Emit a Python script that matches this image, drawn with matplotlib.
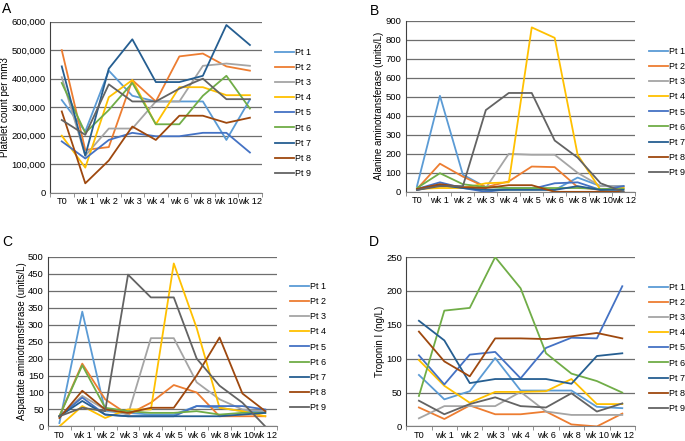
import numpy as np
import matplotlib
matplotlib.use('Agg')
import matplotlib.pyplot as plt
from matplotlib.ticker import FuncFormatter

plt.rcParams['font.family'] = ['Liberation Sans', 'DejaVu Sans']

patients = ['Pt 1', 'Pt 2', 'Pt 3', 'Pt 4', 'Pt 5', 'Pt 6', 'Pt 7', 'Pt 8', 'Pt 9']
colors = ['#5B9BD5', '#ED7D31', '#A5A5A5', '#FFC000', '#4472C4',
          '#70AD47', '#255E91', '#9E480E', '#636363']

weeks_a = ['T0', 'wk 1', 'wk 2', 'wk 3', 'wk 4', 'wk 6', 'wk 8', 'wk 10', 'wk 12']
weeks_b = ['T0', 'wk 1', 'wk 2', 'wk 3', 'wk 4', 'wk 5', 'wk 6', 'wk 8', 'wk 10', 'wk 12']

# A) platelets
platelets = [
    [325000, 215000, 428000, 340000, 320000, 320000, 320000, 185000, 327000],
    [500000, 150000, 160000, 395000, 320000, 478000, 488000, 443000, 428000],
    [405000, 130000, 225000, 225000, 320000, 320000, 445000, 453000, 445000],
    [200000, 88000, 335000, 395000, 240000, 370000, 370000, 342000, 342000],
    [180000, 120000, 185000, 210000, 198000, 198000, 210000, 210000, 141000],
    [385000, 210000, 290000, 385000, 240000, 240000, 340000, 410000, 295000],
    [443000, 130000, 435000, 538000, 388000, 388000, 410000, 588000, 518000],
    [285000, 33000, 113000, 232000, 185000, 270000, 270000, 245000, 263000],
    [255000, 203000, 380000, 320000, 320000, 365000, 400000, 328000, 328000],
]

# B) ALT
alt = [
    [30, 505, 90, 25, 20, 20, 10, 75, 30, 30],
    [15, 148, 80, 25, 55, 133, 130, 25, 10, 20],
    [10, 40, 20, 20, 200, 195, 195, 100, 30, 30],
    [15, 20, 20, 45, 50, 865, 810, 195, 10, 20],
    [15, 50, 20, 0, 15, 15, 45, 50, 10, 30],
    [20, 98, 40, 25, 20, 20, 20, 20, 15, 15],
    [10, 35, 20, 10, 10, 10, 10, 30, 10, 10],
    [15, 40, 25, 20, 35, 35, 0, 0, 0, 0],
    [10, 30, 30, 430, 520, 520, 270, 180, 45, 0],
]

# C) AST
ast = [
    [10, 338, 45, 40, 35, 35, 60, 55, 45, 45],
    [30, 185, 80, 35, 70, 122, 100, 30, 30, 30],
    [30, 90, 50, 35, 260, 260, 130, 80, 50, 45],
    [0, 60, 25, 50, 50, 480, 290, 55, 45, 30],
    [30, 85, 35, 30, 30, 30, 60, 60, 60, 50],
    [30, 180, 55, 45, 40, 40, 45, 35, 40, 40],
    [30, 75, 35, 30, 30, 30, 30, 30, 35, 40],
    [25, 105, 50, 40, 55, 55, 150, 262, 97, 45],
    [30, 55, 45, 447, 380, 380, 200, 120, 70, 0],
]

# D) troponin
troponin = [
    [76, 40, 52, 101, 53, 53, 53, 29, 27],
    [28, 11, 31, 18, 18, 22, 3, 0, 19],
    [12, 30, 30, 30, 51, 22, 17, 17, 17],
    [98, 60, 35, 51, 51, 52, 70, 33, 33],
    [105, 62, 106, 110, 71, 116, 131, 130, 207],
    [45, 171, 175, 250, 204, 108, 78, 67, 50],
    [156, 127, 64, 70, 70, 70, 63, 104, 108],
    [140, 96, 74, 130, 130, 129, 133, 138, 130],
    [38, 18, 33, 43, 30, 28, 49, 22, 34],
]

fig = plt.figure(figsize=(6.85, 4.41), dpi=100)

# letter, axes rect, categories, data, ymax, step, ylabel, legend anchor, letter pos
panels = [
    ('A', [0.073, 0.563, 0.309, 0.388], weeks_a, platelets, 600000, 100000,
     'Platelet count per mm3', (0.402, 0.744), (0.003, 0.995)),
    ('B', [0.592, 0.565, 0.335, 0.388], weeks_b, alt, 900, 100,
     'Alanine aminotransferase (units/L)', (0.947, 0.746), (0.540, 0.990)),
    ('C', [0.070, 0.033, 0.334, 0.385], weeks_b, ast, 500, 50,
     'Aspartate aminotransferase (units/L)', (0.424, 0.213), (0.003, 0.468)),
    ('D', [0.593, 0.033, 0.334, 0.384], weeks_a, troponin, 250, 50,
     'Troponin I (ng/L)', (0.947, 0.211), (0.538, 0.468)),
]

for letter, pos, cats, data, ymax, step, ylabel, legpos, lpos in panels:
    ax = fig.add_axes(pos)
    x = np.arange(len(cats))
    for i, vals in enumerate(data):
        ax.plot(x, vals, color=colors[i], lw=1.3, label=patients[i])
    ax.set_xlim(-0.5, len(cats) - 0.5)
    ax.set_ylim(0, ymax)
    ax.set_yticks(np.arange(0, ymax + 1, step))
    ax.set_xticks(x)
    ax.set_xticklabels(cats)
    ax.set_xticks(np.arange(-0.5, len(cats), 1), minor=True)
    ax.tick_params(axis='x', which='major', length=0, labelsize=6.6, pad=3)
    ax.tick_params(axis='x', which='minor', length=3, color='#808080')
    ax.tick_params(axis='y', length=0, labelsize=6.8, pad=3)
    if ymax >= 100000:
        ax.yaxis.set_major_formatter(FuncFormatter(lambda v, p: f'{int(v):,}'))
    ax.grid(axis='y', color='#6e6e6e', lw=0.9)
    ax.set_axisbelow(True)
    for s in ['top', 'right']:
        ax.spines[s].set_visible(False)
    ax.spines['left'].set_color('#404040')
    ax.spines['bottom'].set_color('#808080')
    ax.set_ylabel(ylabel, fontsize=7, labelpad=1)
    ax.legend(loc='center left', bbox_to_anchor=legpos, bbox_transform=fig.transFigure,
              frameon=False, fontsize=6.5, handlelength=2.1, handletextpad=0.1,
              labelspacing=0.68, borderaxespad=0, borderpad=0)
    fig.text(lpos[0], lpos[1], letter, fontsize=10, va='top', ha='left')

fig.savefig('out.png', dpi=100)
